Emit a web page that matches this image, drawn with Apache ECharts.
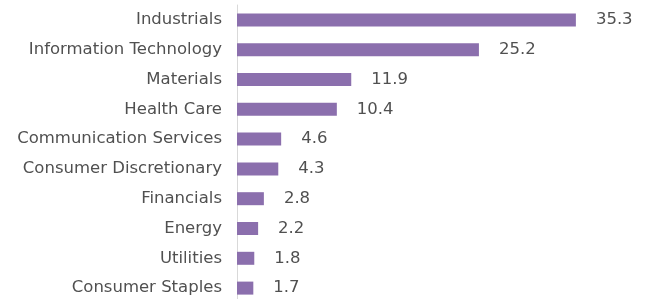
<!DOCTYPE html>
<html lang="en">
<head>
    <meta charset="utf-8" />
    <title>Sector weights</title>
    <script src="https://cdn.jsdelivr.net/npm/echarts@6/dist/echarts.min.js"></script>
    <style>
        html, body { margin: 0; padding: 0; background: #fff; overflow: hidden; }
    </style>
</head>
<body>
    <!-- a little taller than the window: the last row runs off the bottom edge -->
    <div id="main" style="width:648px;height:306px;"></div>
    <script>
        // categories, top to bottom
        var sectors = ['Industrials', 'Information Technology', 'Materials', 'Health Care',
            'Communication Services', 'Consumer Discretionary', 'Financials', 'Energy',
            'Utilities', 'Consumer Staples'];
        // values
        var weights = [35.3, 25.2, 11.9, 10.4, 4.6, 4.3, 2.8, 2.2, 1.8, 1.7];

        var myChart = echarts.init(document.getElementById('main'));

        var option = {
            animation: false,
            grid: {
                left: 237,
                top: 5,
                bottom: 3,
                right: 27
            },
            xAxis: {
                type: 'value',
                min: 0,
                max: 40,
                show: false
            },
            yAxis: {
                type: 'category',
                inverse: true,
                data: sectors,
                axisLine: { show: true, lineStyle: { color: '#d9d9d9', width: 1 } },
                axisTick: { show: false },
                axisLabel: {
                    margin: 15,
                    color: '#505050',
                    fontSize: 16.5,
                    fontFamily: 'DejaVu Sans'
                }
            },
            series: [{
                type: 'bar',
                data: weights,
                barWidth: 13,
                itemStyle: { color: '#8b6fad' },
                label: {
                    show: true,
                    position: 'right',
                    distance: 20,
                    color: '#505050',
                    fontSize: 16.5,
                    fontFamily: 'DejaVu Sans',
                    formatter: function (p) { return p.value.toFixed(1); }
                }
            }]
        };
        myChart.setOption(option);
    </script>
</body>
</html>
